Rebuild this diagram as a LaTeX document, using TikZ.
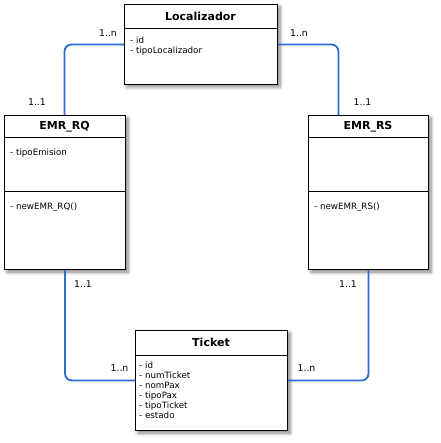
\documentclass[tikz,border=0pt]{standalone}
\usepackage{fontspec}
\setmainfont{DejaVu Sans}
\usetikzlibrary{shadows.blur,calc}
\definecolor{conn}{RGB}{43,108,207}
\tikzset{
  umlbox/.style={draw=black, line width=1pt, fill=white, anchor=north west, inner sep=0pt,
    blur shadow={shadow xshift=2.5pt, shadow yshift=-2.5pt, shadow blur steps=6, shadow opacity=50, shadow blur radius=3.5pt}},
  title/.style={font=\fontsize{11}{12}\selectfont\bfseries, inner sep=0pt},
  attr/.style={font=\fontsize{8.7}{10}\selectfont, anchor=west, inner sep=0pt, text height=6.5pt, text depth=1.8pt},
  mult/.style={font=\fontsize{9.3}{10}\selectfont, inner sep=0pt},
  link/.style={draw=conn, line width=1.8pt, rounded corners=7pt}
}
\begin{document}
\begin{tikzpicture}[x=1pt,y=-1pt]
\useasboundingbox (0,0) rectangle (440,443);
% boxes
\node[umlbox, minimum width=153pt, minimum height=80pt] (loc) at (124,4) {};
\node[umlbox, minimum width=121pt, minimum height=154pt] (rq) at (4,115) {};
\node[umlbox, minimum width=120pt, minimum height=154pt] (rs) at (308,115) {};
\node[umlbox, minimum width=152pt, minimum height=100pt] (tk) at (135,330) {};
% dividers
\draw[line width=1pt] (loc.west |- 0,29) -- (loc.east |- 0,29);
\draw[line width=1pt] (rq.west |- 0,138) -- (rq.east |- 0,138);
\draw[line width=1pt] (rq.west |- 0,192) -- (rq.east |- 0,192);
\draw[line width=1pt] (rs.west |- 0,138) -- (rs.east |- 0,138);
\draw[line width=1pt] (rs.west |- 0,192) -- (rs.east |- 0,192);
\draw[line width=1pt] (tk.west |- 0,355) -- (tk.east |- 0,355);
% titles
\node[title] (locT) at (200.5,16.5) {Localizador};
\node[title] (rqT) at (64.5,126.5) {EMR\_RQ};
\node[title] (rsT) at (368,126.5) {EMR\_RS};
\node[title] (tkT) at (211,342.5) {Ticket};
% attributes
\node[attr] (la1) at (130,41.5) {- id};
\node[attr] (la2) at (130,51.5) {- tipoLocalizador};
\node[attr] (ra1) at (10,153) {- tipoEmision};
\node[attr] (ro1) at (10,207) {- newEMR\_RQ()};
\node[attr] (so1) at (314,207) {- newEMR\_RS()};
\node[attr] (ta1) at (139,366.3) {- id};
\node[attr] (ta2) at (139,376.2) {- numTicket};
\node[attr] (ta3) at (139,386.1) {- nomPax};
\node[attr] (ta4) at (139,396) {- tipoPax};
\node[attr] (ta5) at (139,405.9) {- tipoTicket};
\node[attr] (ta6) at (139,415.8) {- estado};
% connectors
\draw[link] (loc.west) -| ([xshift=-0.5pt]rq.north);
\draw[link] (loc.east) -| ([xshift=-30pt]rs.north);
\draw[link] (rq.south) |- (tk.west);
\draw[link] (rs.south) |- (tk.east);
% multiplicities
\node[mult] (m1) at (108,33) {1..n};
\node[mult] (m2) at (37,102) {1..1};
\node[mult] (m3) at (299,33) {1..n};
\node[mult] (m4) at (362.5,102) {1..1};
\node[mult] (m5) at (83,284) {1..1};
\node[mult] (m6) at (119.5,368) {1..n};
\node[mult] (m7) at (348,284) {1..1};
\node[mult] (m8) at (306.5,368) {1..n};
\end{tikzpicture}
\end{document}
